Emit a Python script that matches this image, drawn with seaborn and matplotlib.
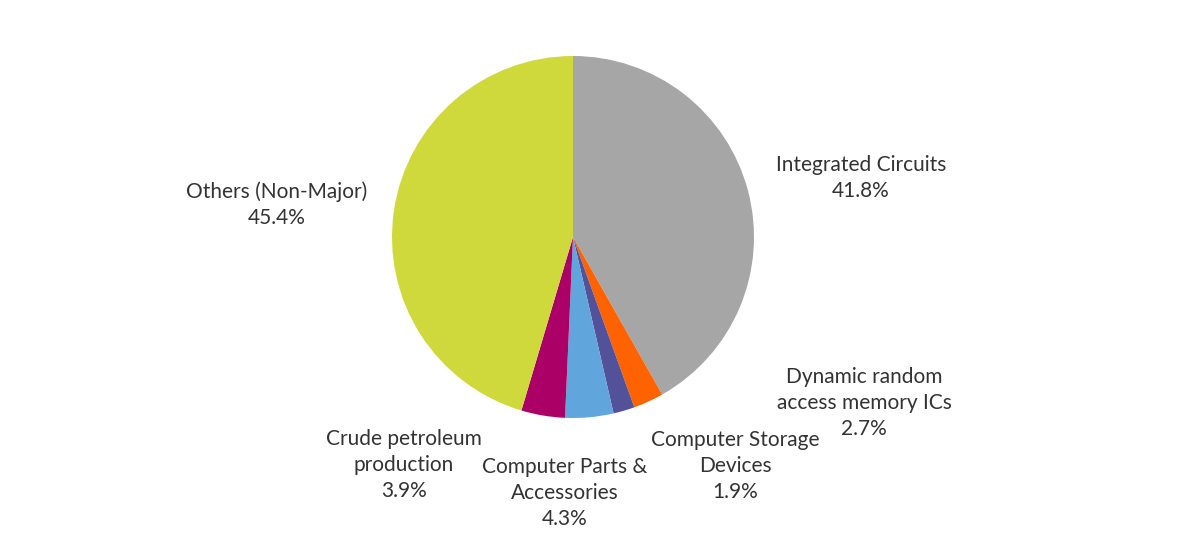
import matplotlib
matplotlib.use("Agg")
import matplotlib.pyplot as plt
import seaborn as sns

sns.set_theme(style="white")
plt.rcParams['font.family'] = ['Lato', 'DejaVu Sans']

categories = ["Integrated Circuits", "Dynamic random\naccess memory ICs", "Computer Storage\nDevices",
              "Computer Parts &\nAccessories", "Crude petroleum\nproduction", "Others (Non-Major)"]
values = [41.8, 2.7, 1.9, 4.3, 3.9, 45.4]
colors = ["#A6A6A6", "#FF6200", "#525199", "#60A5DC", "#AB0066", "#D0D93C"]
label_pos = [(861, 178), (864, 403), (735, 466), (565, 493), (404, 465), (277, 205)]

fig = plt.figure(figsize=(12, 5.43), dpi=100)
ax = fig.add_axes([0, 0, 1, 1])
ax.set_xlim(0, 1200)
ax.set_ylim(0, 543)
ax.set_aspect('equal')
ax.axis('off')

ax.pie(values, colors=colors, startangle=90, counterclock=False,
       center=(573, 543 - 237), radius=181, frame=True,
       wedgeprops=dict(linewidth=0))
ax.set_xlim(0, 1200)
ax.set_ylim(0, 543)
ax.axis('off')

for cat, v, (x, y) in zip(categories, values, label_pos):
    ax.text(x, 543 - y, f"{cat}\n{v}%", ha='center', va='center',
            fontsize=15, color="#333333", linespacing=1.35)

fig.savefig("out.png", dpi=100)
